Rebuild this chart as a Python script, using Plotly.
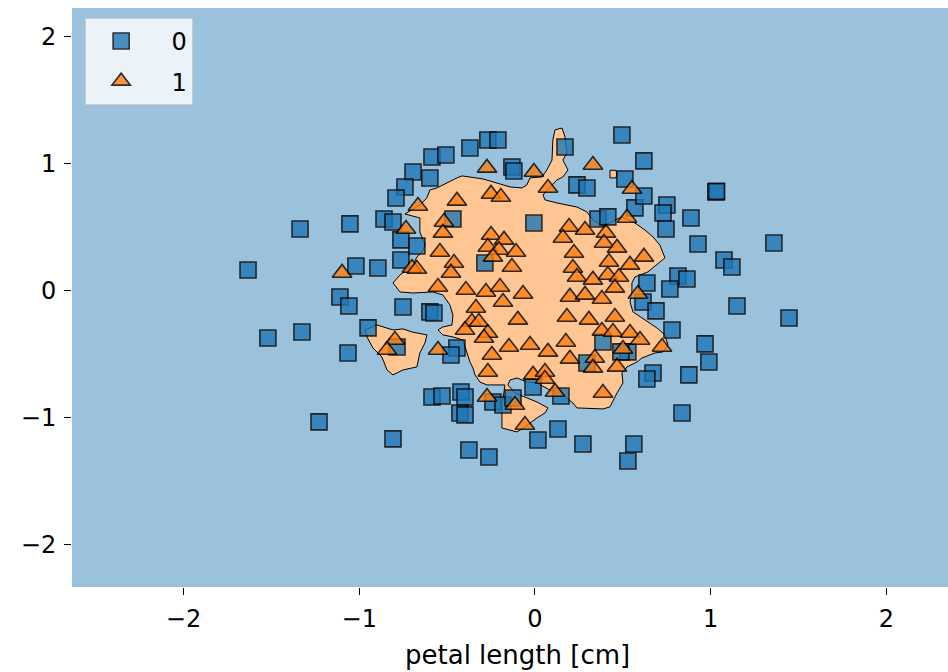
import plotly.graph_objects as go

# ---- data ----
class0_x = [-0.586, -0.507, -0.694, -0.598, -0.740, -0.791, -1.337, -1.053, -0.859, -0.808,
            -0.763, -0.672, -0.763, -1.633, -1.019, -0.894, -1.110,
            -0.370, -0.268, -0.211, 0.171, 0.495, -0.131, -0.120,
            0.239, 0.296, 0.512, -0.467, -0.006, 0.359, 0.415, 0.569, -0.285,
            0.620, 1.030, 1.034, 0.620, 0.751, 0.729, 0.888, 0.746, 0.928, 1.360, 1.076, 1.121,
            0.814, 0.865, 0.768, 0.637,
            0.615, 0.689, 1.150, 1.446, 0.780, 0.968, 0.990, 0.876, 0.672, 0.637, 0.837, 0.563, 0.529,
            -1.059, -0.751, -0.598, -0.575, -1.520, -1.326, -0.950, -1.064, -0.785, -0.586, -0.529,
            -1.229, -0.808,
            0.387, -0.444, -0.478, 0.529, 0.489, 0.296, -0.011, 0.148,
            -0.421, -0.398, -0.239, -0.182, -0.125, -0.427, -0.398, 0.131, 0.017, 0.273,
            -0.376, -0.262]
class0_y = [1.055, 1.071, 0.937, 0.890, 0.819, 0.732, 0.488, 0.528, 0.567, 0.543,
            0.402, 0.354, 0.244, 0.165, 0.197, 0.181, -0.047,
            1.126, 1.189, 1.189, 1.134, 1.228, 0.976, 0.945,
            0.835, 0.811, 0.882, 0.567, 0.535, 0.567, 0.583, 0.654, 0.220,
            1.024, 0.780, 0.784, 0.748, 0.677, 0.614, 0.575, 0.488, 0.370, 0.378, 0.244, 0.189,
            0.118, 0.094, 0.016, 0.063,
            -0.087, -0.157, -0.118, -0.213, -0.307, -0.417, -0.559, -0.661, -0.646, -0.693, -0.961, -1.205, -1.339,
            -0.118, -0.126, -0.165, -0.173, -0.370, -0.323, -0.291, -0.488, -0.441, -0.835, -0.827,
            -1.031, -1.165,
            -0.402, -0.449, -0.504, -0.480, -0.480, -0.567, -0.756, -0.827,
            -0.795, -0.835, -0.874, -0.898, -0.843, -0.961, -0.976, -1.087, -1.173, -1.205,
            -1.252, -1.307]

class1_x = [-0.666, -0.734, -1.098, -0.700, -0.672, -0.273, -0.006, 0.330, 0.552, 0.074,
            -0.250, -0.194, -0.444, 0.524, -0.518, -0.524, 0.194, 0.285, 0.404, -0.250,
            -0.268, -0.176, -0.205, -0.108, -0.239, -0.541, -0.461, -0.478, -0.131, 0.159,
            0.222, 0.216, 0.239, 0.393, 0.467, 0.421, 0.415, 0.478, 0.541, 0.330,
            -0.552, -0.393, -0.279, -0.199, -0.068, 0.199, 0.285, 0.455, 0.620, 0.586,
            -0.797, -0.842, -0.552,
            -0.182, 0.381, -0.336, -0.359, -0.319, -0.097, 0.182, 0.307, 0.455, -0.398, -0.268,
            -0.290, 0.381, 0.444, 0.541, 0.176, -0.028, -0.148, 0.074, -0.245, 0.199,
            0.501, 0.341, 0.330, 0.467, -0.268, -0.011, 0.057, 0.057, 0.114, 0.387,
            -0.273, -0.114, -0.057, 0.598, 0.723]
class1_y = [0.669, 0.488, 0.142, 0.181, 0.173, 0.969, 0.937, 0.992, 0.803, 0.811,
            0.764, 0.740, 0.709, 0.575, 0.543, 0.457, 0.504, 0.480, 0.457, 0.441,
            0.346, 0.402, 0.323, 0.307, 0.268, 0.307, 0.220, 0.142, 0.189, 0.417,
            0.299, 0.181, 0.110, 0.378, 0.339, 0.228, 0.126, 0.110, 0.205, 0.087,
            0.031, 0.008, -0.008, 0.031, -0.024, -0.047, -0.031, 0.024, 0.268, -0.024,
            -0.386, -0.465, -0.465,
            -0.087, -0.063, -0.134, -0.244, -0.244, -0.228, -0.205, -0.228, -0.205, -0.307, -0.331,
            -0.370, -0.315, -0.323, -0.331, -0.402, -0.425, -0.441, -0.480, -0.504, -0.535,
            -0.457, -0.528, -0.606, -0.598, -0.638, -0.661, -0.638, -0.693, -0.795, -0.803,
            -0.835, -0.898, -1.055, -0.386, -0.441]

# decision region of class 1 (outline)
region_x = [-0.598, -0.558, -0.444, -0.415, -0.296, -0.216, -0.142, -0.074, -0.046, -0.028,
            0.040, 0.068, 0.097, 0.102, 0.114, 0.154, 0.171, 0.182, 0.159, 0.188,
            0.159, 0.125, 0.085, 0.046, 0.057, 0.125, 0.239, 0.296, 0.330, 0.387,
            0.455, 0.495, 0.569, 0.626, 0.672, 0.711, 0.729, 0.740, 0.711, 0.643,
            0.569, 0.552, 0.552, 0.541, 0.558, 0.609, 0.655, 0.694, 0.740, 0.757,
            0.729, 0.683, 0.609, 0.581, 0.524, 0.495, 0.501, 0.467, 0.427, 0.387,
            0.239, 0.216, 0.159, 0.085, 0.011, -0.046, -0.102, -0.142, -0.154, -0.114,
            0.011, 0.074, 0.057, 0.011, -0.057, -0.102, -0.188, -0.188, -0.176, -0.171,
            -0.273, -0.313, -0.341, -0.353, -0.370, -0.387, -0.410, -0.467, -0.524, -0.552,
            -0.524, -0.472, -0.467, -0.484, -0.524, -0.581, -0.694, -0.768, -0.808, -0.768,
            -0.694, -0.672, -0.643, -0.626, -0.655, -0.655, -0.740, -0.655, -0.615]
region_y = [0.795, 0.811, 0.890, 0.906, 0.882, 0.850, 0.819, 0.811, 0.835, 0.890,
            0.898, 0.953, 1.031, 1.189, 1.268, 1.283, 1.213, 1.087, 1.031, 0.953,
            0.898, 0.874, 0.819, 0.756, 0.717, 0.693, 0.661, 0.622, 0.559, 0.512,
            0.559, 0.583, 0.535, 0.480, 0.425, 0.362, 0.299, 0.260, 0.228, 0.150,
            0.110, 0.063, -0.008, -0.087, -0.165, -0.213, -0.252, -0.291, -0.346, -0.425,
            -0.480, -0.488, -0.528, -0.559, -0.598, -0.646, -0.724, -0.803, -0.913, -0.929,
            -0.921, -0.882, -0.819, -0.780, -0.724, -0.717, -0.685, -0.701, -0.740, -0.803,
            -0.874, -0.921, -0.961, -1.000, -1.071, -1.110, -1.079, -0.898, -0.795, -0.740,
            -0.740, -0.717, -0.661, -0.606, -0.559, -0.480, -0.386, -0.362, -0.346, -0.307,
            -0.283, -0.268, -0.189, -0.110, -0.031, -0.008, -0.016, -0.008, 0.063, 0.126,
            0.205, 0.268, 0.307, 0.362, 0.465, 0.575, 0.606, 0.677, 0.732]

island_x = [-0.968, -0.899, -0.808, -0.751, -0.700, -0.615, -0.626, -0.655, -0.672, -0.751,
            -0.808, -0.842, -0.871, -0.922, -0.956]
island_y = [-0.307, -0.268, -0.307, -0.299, -0.323, -0.346, -0.409, -0.488, -0.598, -0.622,
            -0.661, -0.622, -0.520, -0.449, -0.362]

spot_x = [0.427, 0.460, 0.467, 0.460, 0.427]
spot_y = [0.950, 0.950, 0.920, 0.890, 0.890]

tick_vals = [-2, -1, 0, 1, 2]
x_range = [-2.635, 2.351]
y_range = [-2.331, 2.228]
class_labels = ["0", "1"]
x_title = "petal length [cm]"

BG_BLUE = "#9ac2dd"
BG_ORANGE = "#ffc593"

fig = go.Figure()

for px_, py_ in [(region_x, region_y), (island_x, island_y), (spot_x, spot_y)]:
    fig.add_trace(go.Scatter(
        x=px_ + [px_[0]], y=py_ + [py_[0]], mode="lines", fill="toself",
        fillcolor=BG_ORANGE, line=dict(color="black", width=1),
        showlegend=False, hoverinfo="skip"))

NBSP = "\u00a0"
fig.add_trace(go.Scatter(
    x=class0_x, y=class0_y, mode="markers", name=NBSP * 2 + class_labels[0],
    legendgroup="a",
    marker=dict(symbol="square", size=16, color="#1f77b4", opacity=0.8,
                line=dict(color="black", width=1.6))))
fig.add_trace(go.Scatter(
    x=class1_x, y=class1_y, mode="markers", name=NBSP * 2 + class_labels[1],
    legendgroup="b",
    marker=dict(symbol="triangle-up", size=17, color="#ff7f0e", opacity=0.8,
                line=dict(color="black", width=1.6))))

axis_common = dict(
    showgrid=False, zeroline=False, showline=False,
    ticks="outside", ticklen=7, tickwidth=1.3, tickcolor="black",
    tickvals=tick_vals, tickfont=dict(family="DejaVu Sans", size=24, color="black"),
)

fig.update_layout(
    width=948, height=672,
    margin=dict(l=72, r=0, t=8, b=85),
    paper_bgcolor="white", plot_bgcolor=BG_BLUE,
    font=dict(family="DejaVu Sans", color="black"),
    xaxis=dict(range=x_range, ticklabelstandoff=3, **axis_common),
    yaxis=dict(range=y_range, ticklabelstandoff=3, **axis_common),
    legend=dict(x=0.015, y=0.983, xanchor="left", yanchor="top",
                bgcolor="rgba(255,255,255,0.8)", bordercolor="#cccccc", borderwidth=1,
                font=dict(family="DejaVu Sans", size=24, color="black"),
                itemwidth=60, tracegroupgap=6),
    annotations=[dict(text=x_title, xref="paper", yref="paper", x=0.509, y=-0.1174,
                      xanchor="center", yanchor="middle", showarrow=False,
                      font=dict(family="DejaVu Sans", size=26, color="black"))],
)

fig.write_html("out.html")
